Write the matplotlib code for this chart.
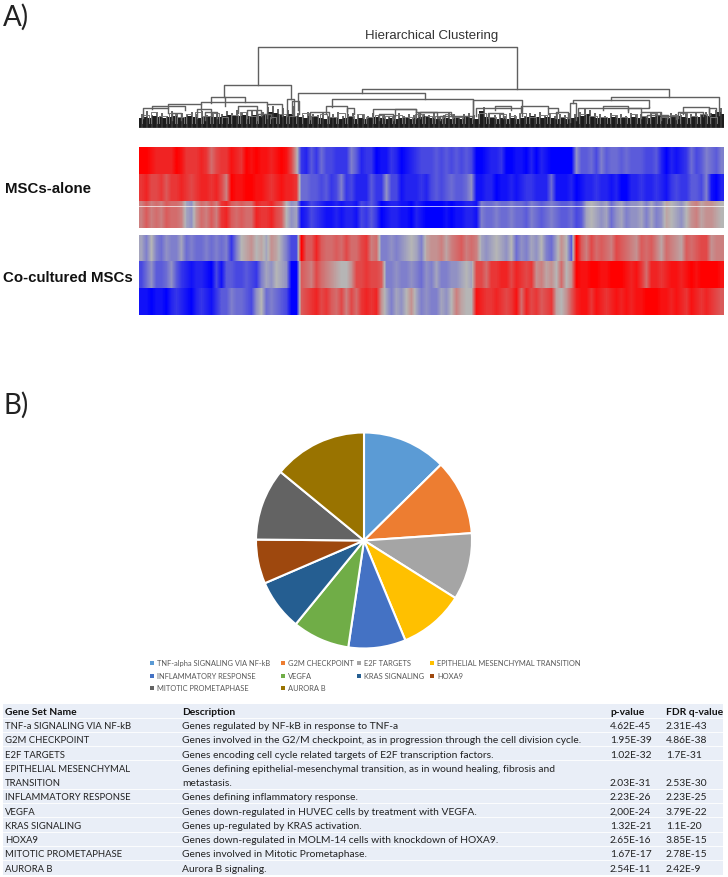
import numpy as np
import matplotlib
matplotlib.use('Agg')
import matplotlib.pyplot as plt
from matplotlib.colors import LinearSegmentedColormap

W, H = 728, 878

# heatmap, one list per row, -10 = full blue, 10 = full red
row_1 = [10, 10, 9, 8, 8, 8, 8, 10, 9, 7, 7, 7, 8, 7, 4, 6, 7, 7, 9, 8, 7, 10, 9, 10, 9, 9, 8, 9, 10, 9, 6, 1,
         -7, -8, -5, -7, -4, -6, -6, -7, -7, -7, -3, -5, -8, -7, -7, -10, -9, -9, -7, -8, -10, -9, -8, -7, -6, -6, -6,
         -5, -6, -5, -6, -5, -6, -5, -6, -10, -10, -9, -8, -8, -7, -10, -10, -9, -9, -10, -8, -10, -8, -9, -10, -10, -10, -10, -10,
         -2, -5, -5, -4, -6, -3, -5, -4, -4, -5, -4, -5, -5, -5, -6, -6, -5, -8, -10, -8, -9, -8, -7, -4, -6, -5, -3, -4, -5, -3]
row_2 = [7, 8, 6, 6, 7, 5, 7, 7, 8, 7, 6, 7, 8, 8, 7, 8, 6, 3, 10, 9, 9, 10, 10, 9, 9, 8, 7, 8, 9, 8, 8, 7,
         -4, -4, -5, -5, -6, -5, -7, -6, -3, -7, -6, -8, -8, -8, -5, -7, -7, -2, -6, -6, -9, -8, -8, -8, -7, -8, -6,
         -5, -6, -5, -4, -5, -5, -4, -2, -9, -9, -8, -8, -10, -9, -9, -8, -9, -8, -7, -7, -8, -8, -8, -4, -9, -9, -9, -8,
         -10, -9, -8, -8, -7, -8, -8, -9, -8, -10, -10, -8, -8, -7, -8, -8, -7, -8, -9, -7, -6, -7, -7, -5, -5, -6, -3, -9, -10, -8]
row_3 = [3, 5, 3, 4, 3, 5, 4, 4, 3, -1, -2, 2, 4, 3, 5, 3, 7, 8, 5, 4, 5, 4, 4, 8, 7, 7, 8, 6, 5, 0, -2, -1,
         -9, -8, -6, -7, -8, -9, -9, -8, -9, -8, -8, -9, -6, -7, -5, -7, -10, -9, -8, -8, -9, -9, -10, -8, -9, -10, -10,
         -10, -10, -9, -10, -9, -9, -8, -8, -9, -3, -4, -4, -3, -4, -4, -3, -4, -4, -5, -3, -4, -5, -4, -3, -4, -5, -5, -4, -6, -5,
         -1, 0, -1, -2, -1, -4, -2, -1, -3, -2, -2, -1, -3, -1, -3, -2, 1, 0, -1, -2, 0, 2, 3, 1, 2, 2, 1, 0]
row_4 = [-1, -3, 0, -3, -4, -2, -3, -3, -1, -4, -3, -4, -4, -3, -4, -3, -4, -3, -7, -3, 0, 1, 2, 0, 1, -1, 2, 1, -1, -3, -6, -6,
         10, 5, 5, 8, 5, 4, 4, 5, 4, 6, 4, 4, 6, 7, 3, 4, -3, -3, -2, -3, -2, -1, 0, -1, -3, 1, 2,
         2, 3, 1, 3, 4, 5, 3, 4, 3, -1, -2, -1, 0, -1, -2, 0, -4, -2, -3, -1, -2, 0, -3, -4, -1, 2, 0, -5,
         10, 5, 3, 6, 4, 5, 4, 3, 6, 5, 4, 3, 2, 5, 4, 5, 3, 1, 4, 3, 2, 1, 5, 4, 5, 6, 6, 2, 3, 3]
row_5 = [-6, -4, -2, -5, -5, -4, -2, -5, -7, -8, -9, -8, -8, -9, -10, -6, -9, -5, -5, -6, -6, -5, -6, -7, -3, -1, -2, 0, -1, -2, -10, -10,
         5, 4, 3, 6, 4, 3, 2, 1, 0, 0, 2, 6, 6, 7, 6, 6, 5, -3, -3, -2, -3, -3, -2, -3, -4, -2, -3,
         -1, -3, -3, -2, -2, -1, 0, -1, 6, 6, 4, 7, 7, 8, 8, 6, 8, 7, 6, 7, 2, 3, 1, 2, 0, 4, 0, 2,
         10, 9, 9, 10, 10, 9, 9, 10, 10, 10, 9, 8, 9, 7, 4, 8, 8, 7, 8, 9, 9, 8, 9, 10, 9, 10, 10, 10, 10, 9]
row_6 = [-9, -9, -10, -9, -9, -10, -8, -7, -8, -9, -10, -8, -7, -8, -9, -7, -5, -5, -3, -4, -4, -5, -6, -2, 0, -4, -3, -4, -5, -6, -10, -10,
         5, 6, 7, 8, 6, 7, 5, 4, 6, 3, 6, 4, 7, 8, 7, 8, 2, -1, -3, -1, -2, 0, 2, -1, -3, -2, -3,
         -3, -1, -2, 0, 3, 1, 0, 0, 9, 8, 7, 7, 8, 7, 6, 7, 9, 4, 8, 6, 7, 5, 6, 7, 1, 0, 2, 5,
         8, 9, 9, 7, 9, 8, 7, 8, 9, 8, 9, 8, 9, 9, 10, 10, 10, 9, 9, 8, 9, 8, 7, 9, 8, 7, 8, 7, 6, 5]

# dendrogram: left, right, height, left leg end, right leg end
links = [(119, 378, 81, 43, 39), (85, 152, 43, 31, 29), (223, 530, 39, 35, 31), (159, 286, 35, 18, 29),
         (193, 334, 29, 21, 10), (334, 383, 28, 10, 20), (472, 580, 31, 28, 13), (434, 510, 28, 25, 21),
         (72, 106, 31, 25, 26), (62, 86, 26, 24, 22), (86, 128, 26, 31, 24), (29, 62, 24, 20, 18),
         (13, 46, 22, 19, 18), (4, 29, 20, 10, 15), (99, 118, 22, 15, 14), (128, 143, 24, 10, 12),
         (148, 155, 29, 12, 12), (153, 160, 27, 14, 14), (187, 208, 22, 14, 17), (208, 215, 20, 10, 14),
         (234, 277, 19, 12, 16), (256, 277, 19, 12, 16), (277, 312, 16, 10, 12), (281, 298, 16, 10, 10),
         (301, 334, 12, 8, 10), (337, 383, 20, 12, 12), (356, 372, 22, 18, 18), (349, 364, 15, 10, 10),
         (382, 409, 22, 16, 20), (409, 419, 20, 14, 15), (417, 429, 16, 10, 10), (431, 437, 25, 6, 8),
         (439, 502, 20, 12, 16), (464, 489, 22, 18, 18), (489, 510, 20, 16, 21), (502, 522, 16, 10, 13),
         (508, 529, 13, 8, 10), (522, 537, 12, 8, 9), (544, 570, 21, 14, 16), (570, 577, 20, 12, 12),
         (539, 564, 16, 10, 12), (33, 42, 15, 8, 8), (58, 72, 19, 10, 12), (66, 78, 16, 8, 10),
         (108, 122, 18, 10, 12), (118, 132, 14, 8, 10), (171, 190, 16, 9, 9), (240, 254, 14, 8, 8)]

# small clusters just above the leaves: left, right, height
small_left = [3, 12, 20, 30, 38, 47, 56, 64, 74, 83, 92, 101, 110, 119, 131, 140, 150, 163, 172, 181, 190, 199,
              208, 218, 227, 236, 246, 256, 266, 276, 286, 296, 306, 316, 326, 340, 350, 360, 370, 380, 390,
              400, 411, 421, 440, 450, 461, 471, 481, 491, 501, 511, 521, 531, 541, 551, 561, 571]
small_right = [10, 18, 27, 36, 45, 53, 62, 71, 80, 89, 99, 107, 117, 126, 137, 147, 157, 170, 179, 188, 197, 206,
               215, 225, 234, 243, 253, 263, 273, 283, 293, 303, 313, 323, 333, 347, 357, 367, 377, 387, 397,
               408, 418, 428, 447, 458, 468, 478, 488, 498, 508, 518, 528, 538, 548, 558, 568, 578]
small_height = [13, 16, 12, 15, 11, 14, 16, 12, 15, 11, 13, 16, 12, 14, 11, 14, 12, 15, 12, 14, 11, 15,
                12, 14, 11, 13, 12, 13, 11, 14, 12, 12, 14, 11, 12, 15, 11, 14, 12, 15, 11,
                13, 15, 11, 14, 12, 11, 13, 11, 14, 12, 15, 11, 13, 15, 12, 14, 11]

# top of the black leaf band, one value per 5 px
band_top = [10, 11, 10, 12, 11, 10, 11, 12, 10, 11, 12, 11, 10, 11, 12, 11, 11, 12, 13, 12, 12, 13, 12, 13, 12, 14, 16, 15, 14, 12,
            14, 12, 11, 10, 12, 11, 10, 9, 11, 10, 9, 10, 11, 9, 10, 9, 10, 11, 10, 9, 10, 9, 10, 10, 9, 10, 11, 12, 10, 9,
            9, 10, 9, 10, 9, 11, 10, 9, 17, 11, 10, 9, 10, 9, 10, 9, 10, 11, 12, 11, 10, 11, 10, 9, 10, 9, 10, 11, 12, 14,
            11, 10, 11, 10, 11, 10, 11, 10, 11, 10, 11, 10, 11, 12, 11, 10, 11, 12, 11, 10, 12, 11, 13, 12, 14, 16, 14]

# single leaf stems poking out of the band, one per 5 px
stem_top = [14, 17, 13, 16, 15, 12, 17, 14, 15, 13, 16, 14, 17, 13, 15, 16, 14, 17, 15, 18, 16, 15, 17, 18, 16, 21, 22, 19, 20, 18,
            22, 15, 13, 16, 14, 13, 15, 12, 14, 16, 12, 14, 15, 13, 14, 12, 15, 13, 14, 12, 13, 15, 12, 14, 13, 15, 14, 13, 15, 12,
            13, 15, 14, 12, 14, 15, 13, 14, 21, 15, 13, 14, 12, 15, 13, 14, 12, 15, 14, 16, 13, 15, 12, 14, 13, 15, 14, 16, 20, 18,
            15, 14, 12, 15, 13, 14, 12, 15, 13, 14, 12, 15, 14, 16, 13, 15, 14, 13, 16, 14, 15, 13, 16, 15, 18, 20, 17]

# pie
pie_labels = ['TNF-alpha SIGNALING VIA NF-kB', 'G2M CHECKPOINT', 'E2F TARGETS', 'EPITHELIAL MESENCHYMAL TRANSITION',
              'INFLAMMATORY RESPONSE', 'VEGFA', 'KRAS SIGNALING', 'HOXA9', 'MITOTIC PROMETAPHASE', 'AURORA B']
pie_values = [45.4, 40.7, 36.1, 35.3, 30.9, 30.8, 27.5, 23.8, 38.9, 50.6]
pie_colors = ['#5B9BD5', '#ED7D31', '#A5A5A5', '#FFC000', '#4472C4', '#70AD47', '#255E91', '#9E480E', '#636363', '#997300']

# table
gene_sets = ['TNF-a SIGNALING VIA NF-kB', 'G2M CHECKPOINT', 'E2F TARGETS', 'EPITHELIAL MESENCHYMAL', 'TRANSITION',
             'INFLAMMATORY RESPONSE', 'VEGFA', 'KRAS SIGNALING', 'HOXA9', 'MITOTIC PROMETAPHASE', 'AURORA B']
descriptions = ['Genes regulated by NF-kB in response to TNF-a',
                'Genes involved in the G2/M checkpoint, as in progression through the cell division cycle.',
                'Genes encoding cell cycle related targets of E2F transcription factors.',
                'Genes defining epithelial-mesenchymal transition, as in wound healing, fibrosis and',
                'metastasis.',
                'Genes defining inflammatory response.',
                'Genes down-regulated in HUVEC cells by treatment with VEGFA.',
                'Genes up-regulated by KRAS activation.',
                'Genes down-regulated in MOLM-14 cells with knockdown of HOXA9.',
                'Genes involved in Mitotic Prometaphase.',
                'Aurora B signaling.']
p_values = ['4.62E-45', '1.95E-39', '1.02E-32', '', '2.03E-31', '2.23E-26', '2,00E-24', '1.32E-21', '2.65E-16', '1.67E-17', '2.54E-11']
q_values = ['2.31E-43', '4.86E-38', '1.7E-31', '', '2.53E-30', '2.23E-25', '3.79E-22', '1.1E-20', '3.85E-15', '2.78E-15', '2.42E-9']


def px_axes(fig, x, y, w, h):
    # axes from a box given in picture pixels, y going down
    ax = fig.add_axes([x / W, 1 - (y + h) / H, w / W, h / H])
    ax.axis('off')
    return ax


fig = plt.figure(figsize=(W / 100, H / 100), dpi=100, facecolor='white')

# page level text
page = px_axes(fig, 0, 0, W, H)
page.set_xlim(0, W)
page.set_ylim(H, 0)
page.text(3, 17, 'A)', fontsize=20, family='Lato', va='center', color='#222222')
page.text(3, 405, 'B)', fontsize=20, family='Lato', va='center', color='#222222')
page.text(432, 36, 'Hierarchical Clustering', fontsize=9.5, family='Liberation Sans', ha='center', va='center', color='#333333')
page.text(5, 189, 'MSCs-alone', fontsize=10.8, family='Liberation Sans', weight='bold', va='center', color='#111111')
page.text(3, 278, 'Co-cultured MSCs', fontsize=10.8, family='Liberation Sans', weight='bold', va='center', color='#111111')

# dendrogram
dend = px_axes(fig, 139, 40, 585, 89)
dend.set_xlim(0, 585)
dend.set_ylim(0, 89)
band_x = np.arange(len(band_top)) * 585 / (len(band_top) - 1)
dend.vlines(band_x + 2.5, 0, stem_top, color='#3a3a3a', lw=1.1)
dend.fill_between(band_x, band_top, 0, step='mid', color='#1d1d1d', lw=0)
dend.axhline(0.5, color='#999999', lw=1)
for xl, xr, h in zip(small_left, small_right, small_height):
    dend.plot([xl, xl, xr, xr], [5, h, h, 5], color='#777777', lw=0.7)
for xl, xr, h, hl, hr in links:
    dend.plot([xl, xl, xr, xr], [hl, h, h, hr], color='#606060', lw=1.0)

# heatmap blocks
heat_cmap = LinearSegmentedColormap.from_list('heat', ['#0000ff', '#b6b6b6', '#ff0000'])
blocks = [((148, 81), [row_1, row_2, row_3]), ((236, 80), [row_4, row_5, row_6])]
for (top, height), rows in blocks:
    ax = px_axes(fig, 139, top, 585, height)
    for i, row in enumerate(rows):
        ax.imshow([row], cmap=heat_cmap, vmin=-10, vmax=10, aspect='auto',
                  interpolation='bilinear', extent=(0, 1, 3 - i - 1, 3 - i))
    ax.set_xlim(0, 1)
    ax.set_ylim(0, 3)
    if top == 148:
        ax.axhline(0.8, color='white', lw=0.7, alpha=0.7)

# pie
pie_ax = px_axes(fig, 256, 433.5, 216, 216)
pie_ax.pie(pie_values, colors=pie_colors, startangle=90, counterclock=False,
           wedgeprops={'edgecolor': 'white', 'linewidth': 1.5})
pie_ax.set_xlim(-1, 1)
pie_ax.set_ylim(-1, 1)

# pie legend, three rows on four columns
legend_x = [150, 281, 357, 430]
legend_y = [663.5, 676.5, 688.5]
legend_cols = [0, 1, 2, 3, 0, 1, 2, 3, 0, 1]
legend_rows = [0, 0, 0, 0, 1, 1, 1, 1, 2, 2]
for name, color, c, r in zip(pie_labels, pie_colors, legend_cols, legend_rows):
    page.plot(legend_x[c] + 2, legend_y[r], 's', color=color, ms=3.4, mew=0)
    page.text(legend_x[c] + 7, legend_y[r], name, fontsize=5.4, family='Lato', va='center', color='#595959')

# table
table = px_axes(fig, 3, 705, 720, 171)
table.set_xlim(3, 723)
table.set_ylim(11.55, -0.45)
table.axhspan(-0.45, 11.55, color='#e9eef7', lw=0)
for y in [0.5, 1.5, 2.5, 3.5, 5.5, 6.5, 7.5, 8.5, 9.5, 10.5]:
    table.axhline(y, color='white', lw=0.6)
col_x = [5, 182, 610, 666]
col_size = [6.8, 7.4, 7.4, 7.4]
headers = ['Gene Set Name', 'Description', 'p-value', 'FDR q-value']
for x, label in zip(col_x, headers):
    table.text(x, 0.07, label, fontsize=7.4, family='Lato', weight='bold', va='center', color='#111111')
for i, row in enumerate(zip(gene_sets, descriptions, p_values, q_values)):
    for x, size, cell in zip(col_x, col_size, row):
        table.text(x, i + 1.07, cell, fontsize=size, family='Lato', va='center', color='#222222')

fig.savefig('out.png', dpi=100, facecolor='white')
